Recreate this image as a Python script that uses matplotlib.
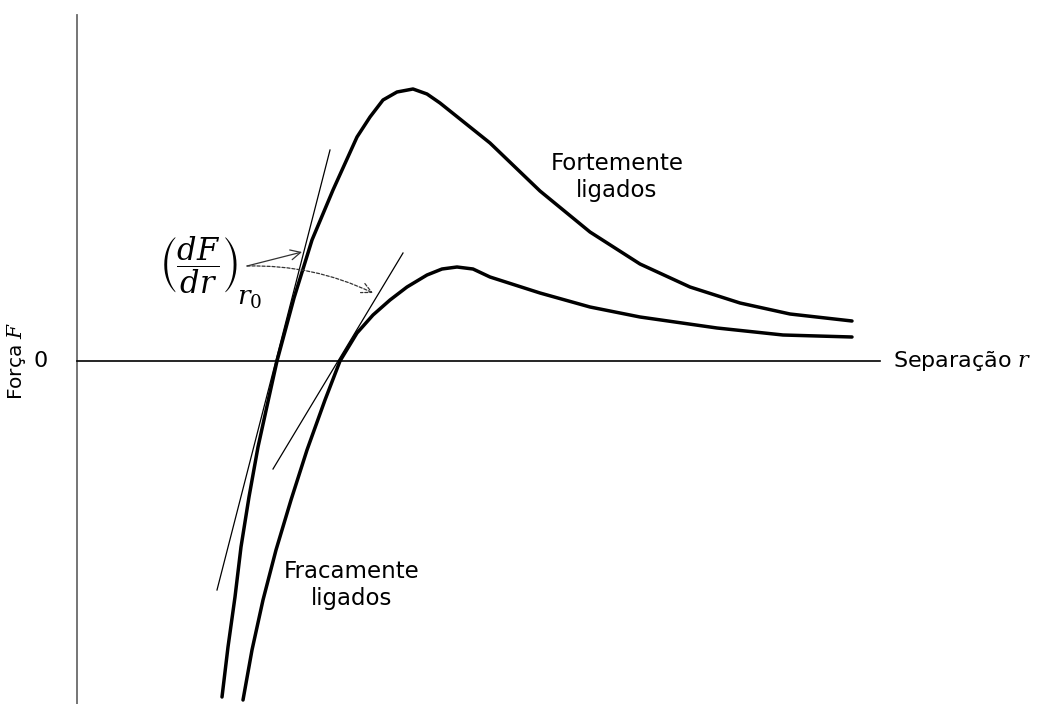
#!/usr/bin/env python3
"""Force versus separation for strongly and weakly bound solids."""
import matplotlib

matplotlib.use("Agg")
import matplotlib.pyplot as plt  # noqa: E402

plt.rcParams.update({
    "font.family": "DejaVu Sans",
    "mathtext.fontset": "dejavuserif",
})

# separation r and force F (arbitrary units, F = 0 on the r axis)
strong_r = [1.45, 1.51, 1.58, 1.64, 1.72, 1.81, 1.92, 2.00, 2.17, 2.35, 2.56,
            2.80, 2.93, 3.06, 3.20, 3.36, 3.50, 3.63, 3.88, 4.13, 4.63, 5.13,
            5.63, 6.13, 6.63, 7.13, 7.75]
strong_F = [-3.36, -2.86, -2.36, -1.86, -1.36, -0.86, -0.36, 0.00, 0.63, 1.21, 1.71,
            2.24, 2.44, 2.61, 2.69, 2.72, 2.67, 2.58, 2.38, 2.18, 1.70, 1.29,
            0.97, 0.74, 0.58, 0.47, 0.40]

weak_r = [1.66, 1.75, 1.86, 1.99, 2.14, 2.30, 2.48, 2.63, 2.80, 2.96, 3.13,
          3.30, 3.50, 3.65, 3.80, 3.96, 4.13, 4.63, 5.13, 5.63, 6.40, 7.06, 7.75]
weak_F = [-3.39, -2.89, -2.39, -1.89, -1.39, -0.89, -0.39, 0.00, 0.28, 0.46, 0.61,
          0.74, 0.86, 0.92, 0.94, 0.92, 0.84, 0.68, 0.54, 0.44, 0.33, 0.26, 0.24]

# tangents (dF/dr) at r0 for each curve
tangent_strong_r = [1.40, 2.53]
tangent_strong_F = [-2.29, 2.11]
tangent_weak_r = [1.96, 3.26]
tangent_weak_F = [-1.08, 1.08]

# axes extents
r_axis = [0.0, 8.03]
F_axis = [-3.43, 3.46]


def draw(ax):
    ax.plot([0, 0], F_axis, color="#6a6a6a", linewidth=1.3)
    ax.plot(r_axis, [0, 0], color="black", linewidth=1.2)

    ax.plot(strong_r, strong_F, color="black", linewidth=2.5,
            solid_joinstyle="round", solid_capstyle="round")
    ax.plot(weak_r, weak_F, color="black", linewidth=2.5,
            solid_joinstyle="round", solid_capstyle="round")
    ax.plot(tangent_strong_r, tangent_strong_F, color="black", linewidth=0.9)
    ax.plot(tangent_weak_r, tangent_weak_F, color="black", linewidth=0.9)

    ax.text(-0.36, 0.0, "0", fontsize=16, ha="center", va="center")
    ax.text(-0.60, 0.0, "Força $F$", fontsize=14.5, rotation=90,
            ha="center", va="center")
    ax.text(8.16, 0.0, "Separação $r$", fontsize=16, ha="left", va="center")

    ax.text(5.40, 1.84, "Fortemente\nligados", fontsize=16.5, ha="center",
            va="center", linespacing=1.25)
    ax.text(2.75, -2.24, "Fracamente\nligados", fontsize=16.5, ha="center",
            va="center", linespacing=1.25)

    # derivative label: bracketed fraction with its r0 subscript
    ax.text(1.21, 0.96, r"$\left(\dfrac{dF}{dr}\right)$", fontsize=22,
            ha="center", va="center")
    ax.text(1.73, 0.63, r"$r_0$", fontsize=19, ha="center", va="center")
    tail = (1.70, 0.95)
    ax.annotate("", xy=(2.25, 1.09), xytext=tail,
                arrowprops=dict(arrowstyle="->", color="#333333", lw=0.9,
                                shrinkA=0, shrinkB=0, mutation_scale=18))
    ax.annotate("", xy=(2.96, 0.68), xytext=tail,
                arrowprops=dict(arrowstyle="->", color="#333333", lw=0.9,
                                linestyle=(0, (2.5, 1.5)), shrinkA=0, shrinkB=0,
                                mutation_scale=18,
                                connectionstyle="arc3,rad=-0.12"))


def main():
    fig = plt.figure(figsize=(10.43, 7.04), dpi=100)
    ax = fig.add_axes([0, 0, 1, 1])
    ax.set_xlim(-0.77, 9.66)
    ax.set_ylim(-3.43, 3.61)
    ax.axis("off")
    draw(ax)
    fig.savefig("out.png", dpi=100, facecolor="white")
    plt.close(fig)


if __name__ == "__main__":
    main()
